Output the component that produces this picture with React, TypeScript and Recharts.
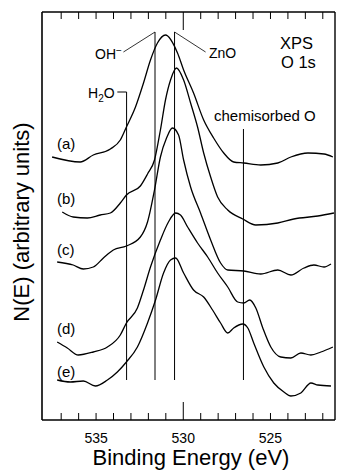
import React from 'react';
import { LineChart, Line, XAxis, YAxis, ReferenceLine } from 'recharts';

// Binding energy (eV) / intensity (arbitrary units) pairs
const curveA = [
  [537.52, 263], [535.91, 258], [535.16, 265], [534.18, 271], [533.61, 280], [533.26, 293],
  [532.74, 313], [532.28, 337], [531.88, 360], [531.48, 377], [531.02, 385], [530.33, 367],
  [529.98, 350], [529.41, 327], [528.83, 300], [528.26, 282], [527.68, 267], [527.11, 258],
  [526.53, 257], [525.56, 255], [524.58, 257], [523.83, 263], [522.85, 267], [521.93, 266],
  [521.42, 263],
];
const curveB = [
  [536.94, 208], [536.31, 203], [535.50, 202], [534.76, 205], [534.18, 207], [533.61, 217],
  [533.26, 225], [532.46, 234], [532.05, 246], [531.65, 260], [531.31, 290], [531.02, 320],
  [530.73, 340], [530.39, 352], [529.98, 340], [529.58, 317], [529.18, 293], [528.83, 267],
  [528.43, 243], [528.03, 223], [527.45, 210], [526.59, 201], [525.84, 195], [524.58, 197],
  [523.66, 201], [522.28, 204], [521.36, 207],
];
const curveC = [
  [537.23, 158], [536.31, 155], [535.73, 151], [535.16, 153], [534.58, 162], [534.01, 170],
  [533.26, 174], [532.46, 183], [532.05, 198], [531.65, 230], [531.31, 263], [530.96, 282],
  [530.62, 292], [530.27, 285], [529.98, 260], [529.58, 233], [529.01, 207], [528.43, 180],
  [527.86, 157], [527.45, 150], [526.53, 149], [525.56, 146], [524.58, 150], [523.83, 145],
  [523.08, 152], [522.51, 155], [521.93, 153], [521.53, 156],
];
const curveD = [
  [537.23, 78], [536.65, 72], [536.02, 65], [535.16, 68], [534.35, 73], [533.61, 85],
  [533.26, 97], [532.63, 112], [532.28, 130], [531.88, 153], [531.31, 180], [530.85, 198],
  [530.44, 207], [530.16, 205], [529.75, 193], [529.18, 177], [528.60, 163], [528.03, 147],
  [527.45, 133], [526.88, 118], [526.53, 117], [526.19, 120], [525.84, 112], [525.44, 92],
  [524.98, 73], [524.41, 63], [523.83, 62], [523.26, 67], [522.68, 65], [522.11, 68],
  [521.42, 73],
];
const curveE = [
  [537.23, 40], [536.48, 38], [535.73, 39], [535.04, 34], [534.35, 40], [533.78, 48],
  [533.26, 58], [532.63, 73], [532.05, 97], [531.59, 120], [531.13, 147], [530.73, 160],
  [530.44, 162], [529.98, 147], [529.41, 130], [528.83, 123], [528.32, 110], [527.86, 97],
  [527.45, 87], [527.11, 92], [526.59, 96], [526.30, 92], [525.96, 77], [525.38, 53],
  [524.81, 37], [524.23, 28], [523.83, 24], [523.26, 27], [522.68, 37], [522.28, 35],
  [521.53, 34],
];

const seriesNames = ['(a)', '(b)', '(c)', '(d)', '(e)'];
const xTicks = [522, 523, 524, 525, 526, 527, 528, 529, 530, 531, 532, 533, 534, 535, 536, 537];
const labeledTicks = [525, 530, 535];

// peak positions (eV) and marker extents (arbitrary units)
const h2oE = 533.25;
const ohE = 531.62;
const znoE = 530.5;
const chemE = 526.55;

const toRows = (pts: number[][]) => pts.map(([e, v]) => ({ e, v }));
const allCurves = [curveA, curveB, curveC, curveD, curveE].map(toRows);

const FONT = '"Liberation Sans", Arial, Helvetica, sans-serif';

const BottomTick = (props: any) => {
  const { x, y, payload } = props;
  const v = payload.value;
  const len = v === 530 ? 18 : 7;
  return (
    <g>
      <line x1={x} y1={y} x2={x} y2={y - len} stroke="#000" strokeWidth={1} />
      {labeledTicks.includes(v) && (
        <text x={x} y={y + 23} textAnchor="middle" fontFamily={FONT} fontSize={14} fill="#000">
          {v}
        </text>
      )}
    </g>
  );
};

const TopTick = (props: any) => {
  const { x, y, payload } = props;
  const len = payload.value === 530 ? 18 : 7;
  return <line x1={x} y1={y} x2={x} y2={y + len} stroke="#000" strokeWidth={1} />;
};

export default function App() {
  const seg = (e: number, lo: number, hi: number) => [
    { x: e, y: lo },
    { x: e, y: hi },
  ];
  return (
    <div style={{ position: 'absolute', left: 0, top: 0, width: 339, height: 472 }}>
      <LineChart width={339} height={472} margin={{ top: 11, right: 3, bottom: 0, left: 0 }}>
        <XAxis
          xAxisId="b"
          type="number"
          dataKey="e"
          domain={[521.3, 538.1]}
          reversed
          allowDataOverflow
          ticks={xTicks}
          interval={0}
          height={52}
          tickSize={0}
          tickMargin={0}
          tickLine={false}
          tick={<BottomTick />}
          axisLine={{ stroke: '#000', strokeWidth: 1.6 }}
        />
        <XAxis
          xAxisId="t"
          orientation="top"
          type="number"
          dataKey="e"
          domain={[521.3, 538.1]}
          reversed
          allowDataOverflow
          ticks={xTicks}
          interval={0}
          height={1}
          tickSize={0}
          tickMargin={0}
          tickLine={false}
          tick={<TopTick />}
          axisLine={{ stroke: '#000', strokeWidth: 1.4 }}
        />
        <YAxis
          yAxisId="l"
          type="number"
          domain={[0, 408]}
          allowDataOverflow
          width={42}
          tick={false}
          tickLine={false}
          axisLine={{ stroke: '#000', strokeWidth: 1.6 }}
        />
        <YAxis
          yAxisId="r"
          orientation="right"
          type="number"
          domain={[0, 408]}
          allowDataOverflow
          width={1}
          tick={false}
          tickLine={false}
          axisLine={{ stroke: '#000', strokeWidth: 1.4 }}
        />
        <ReferenceLine xAxisId="b" yAxisId="l" segment={seg(h2oE, 40, 328)} stroke="#000" strokeWidth={1} />
        <ReferenceLine xAxisId="b" yAxisId="l" segment={[{ x: 533.78, y: 328 }, { x: h2oE, y: 328 }]} stroke="#000" strokeWidth={1} />
        <ReferenceLine xAxisId="b" yAxisId="l" segment={seg(ohE, 40, 388)} stroke="#000" strokeWidth={1} />
        <ReferenceLine xAxisId="b" yAxisId="l" segment={[{ x: 533.43, y: 368 }, { x: ohE, y: 388 }]} stroke="#000" strokeWidth={0.8} />
        <ReferenceLine xAxisId="b" yAxisId="l" segment={seg(znoE, 40, 388)} stroke="#000" strokeWidth={1} />
        <ReferenceLine xAxisId="b" yAxisId="l" segment={[{ x: znoE, y: 388 }, { x: 528.72, y: 368 }]} stroke="#000" strokeWidth={0.8} />
        <ReferenceLine xAxisId="b" yAxisId="l" segment={seg(chemE, 40, 291)} stroke="#000" strokeWidth={1} />
        {allCurves.map((rows, i) => (
          <Line
            key={seriesNames[i]}
            xAxisId="b"
            yAxisId="l"
            data={rows}
            dataKey="v"
            type="monotone"
            stroke="#000"
            strokeWidth={1.3}
            dot={false}
            isAnimationActive={false}
          />
        ))}
      </LineChart>
      <svg
        width={339}
        height={472}
        style={{ position: 'absolute', left: 0, top: 0, pointerEvents: 'none' }}
        fontFamily={FONT}
      >
        <text x={191} y={465} textAnchor="middle" fontSize={22}>Binding Energy (eV)</text>
        <text x={29} y={222} textAnchor="middle" fontSize={22} transform="rotate(-90 29 222)">
          N(E) (arbitrary units)
        </text>
        <text x={280} y={49} fontSize={16.5}>XPS</text>
        <text x={281} y={68} fontSize={16.5}>O 1s</text>
        <text x={95} y={59} fontSize={14}>
          OH<tspan dy={-5} fontSize={10}>−</tspan>
        </text>
        <text x={209} y={58} fontSize={14}>ZnO</text>
        <text x={88} y={98} fontSize={14}>
          H<tspan dy={4} fontSize={10}>2</tspan><tspan dy={-4}>O</tspan>
        </text>
        <text x={214} y={121} fontSize={15}>chemisorbed O</text>
        {seriesNames.map((n, i) => (
          <text key={n} x={57} y={[149, 204, 255, 334, 377][i]} fontSize={15}>{n}</text>
        ))}
      </svg>
    </div>
  );
}
